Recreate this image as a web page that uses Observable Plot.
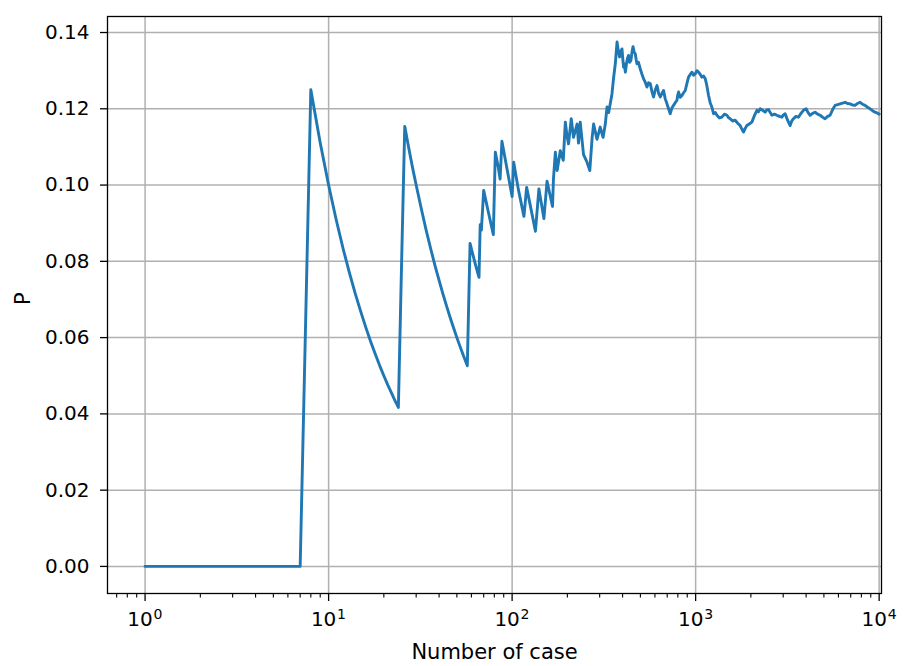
<!DOCTYPE html>
<html>
<head>
<meta charset="utf-8">
<script src="https://cdn.jsdelivr.net/npm/d3@7"></script>
<script src="https://cdn.jsdelivr.net/npm/@observablehq/plot@0.6"></script>
<style>
  body { margin: 0; background: #fff; }
  #chart svg { display: block; }
</style>
</head>
<body>
<div id="chart"></div>
<script>
// running proportion P against the case number
const caseNo = [
  1, 7, 8, 9, 10, 11, 12, 13, 14, 15, 16, 17, 18, 19, 20, 21, 22, 23, 24,
  25, 26, 27, 28, 29, 30, 32, 34, 36, 38, 40, 42, 44, 46, 48, 50, 52, 54, 56, 57,
  58, 59, 60, 62, 64, 66, 67, 68, 70, 74, 79, 81, 84, 86, 88, 94, 100, 102,
  108, 116, 120, 127, 134, 140, 149, 155, 166, 168, 172, 176, 183, 190, 195,
  199, 203, 210, 216, 226, 230, 235, 245, 256, 265, 273, 278, 290, 302, 313,
  322, 329, 336, 350, 357, 365, 373, 379, 385, 391, 397, 401, 405, 409, 414,
  420, 425, 431, 437, 444, 450, 456, 462, 469, 474, 479, 488, 499, 509, 520,
  531, 543, 554, 566, 578, 590, 603, 616, 629, 642, 655, 669, 683, 698, 712,
  727, 742, 758, 774, 791, 799, 807, 824, 842, 860, 878, 896, 915, 935, 955,
  975, 995, 1016, 1037, 1060, 1082, 1105, 1128, 1150, 1176, 1200, 1227, 1252,
  1280, 1306, 1348, 1390, 1435, 1481, 1512, 1543, 1590, 1643, 1695, 1749, 1785,
  1823, 1860, 1902, 1960, 2025, 2090, 2157, 2200, 2247, 2320, 2393, 2440, 2494,
  2550, 2603, 2690, 2771, 2860, 2951, 3010, 3075, 3170, 3273, 3340, 3412, 3520,
  3633, 3750, 3868, 4000, 4100, 4206, 4340, 4477, 4620, 4768, 4920, 5076, 5240,
  5404, 5580, 5754, 5940, 6125, 6320, 6521, 6730, 6943, 7160, 7392, 7630, 7870,
  8120, 8379, 8650, 8921, 9210, 9500, 9750, 10000
];
const pValue = [
  0, 0, 0.125, 0.1111, 0.1, 0.0909, 0.0833, 0.0769, 0.0714, 0.0667, 0.0625, 0.0588, 0.0556, 0.0526, 0.05, 0.0476, 0.0455, 0.0435, 0.0417,
  0.08, 0.1154, 0.1111, 0.1071, 0.1034, 0.1, 0.0938, 0.0882, 0.0833, 0.0789, 0.075, 0.0714, 0.0682, 0.0652, 0.0625, 0.06, 0.0577, 0.0556, 0.0536, 0.0526,
  0.069, 0.0847, 0.0833, 0.0806, 0.0781, 0.0758, 0.0896, 0.0882, 0.0986, 0.0932, 0.0870, 0.1086, 0.1048, 0.1016, 0.1115, 0.1040, 0.0970, 0.1060,
  0.0990, 0.0918, 0.0994, 0.0935, 0.0879, 0.0990, 0.0912, 0.1010, 0.0944, 0.1016, 0.1086, 0.1038, 0.1090, 0.1065, 0.1165,
  0.1130, 0.1108, 0.1174, 0.1125, 0.1160, 0.1110, 0.1165, 0.1080, 0.1060, 0.1038, 0.1125, 0.1160, 0.1120, 0.1152, 0.1125,
  0.1160, 0.1205, 0.1190, 0.1239, 0.1280, 0.1318, 0.1375, 0.1352, 0.1336, 0.1350, 0.1357, 0.1330, 0.1309, 0.1318, 0.1296,
  0.1318, 0.1332, 0.1340, 0.1322, 0.1327, 0.1348, 0.1363, 0.1350, 0.1344, 0.1330, 0.1318, 0.1322, 0.1305, 0.1292, 0.1279,
  0.1270, 0.1257, 0.1268, 0.1266, 0.1245, 0.1231, 0.1250, 0.1261, 0.1240, 0.1231, 0.1240, 0.1248, 0.1226, 0.1213, 0.1200,
  0.1187, 0.1202, 0.1209, 0.1216, 0.1222, 0.1236, 0.1244, 0.1230, 0.1235, 0.1242, 0.1248, 0.1266, 0.1283, 0.1290, 0.1296,
  0.1288, 0.1292, 0.1300, 0.1296, 0.1290, 0.1283, 0.1286, 0.1279, 0.1262, 0.1235, 0.1216, 0.1204, 0.1187,
  0.1190, 0.1183, 0.1176, 0.1178, 0.1186, 0.1183, 0.1177, 0.1174, 0.1168, 0.1170, 0.1162, 0.1156, 0.1147,
  0.1139, 0.1148, 0.1156, 0.1160, 0.1165, 0.1182, 0.1196, 0.1192, 0.1200, 0.1196, 0.1191, 0.1197, 0.1198,
  0.1190, 0.1183, 0.1186, 0.1183, 0.1180, 0.1178, 0.1184, 0.1187, 0.1170, 0.1156, 0.1168, 0.1174, 0.1180,
  0.1178, 0.1188, 0.1196, 0.1200, 0.1190, 0.1183, 0.1188, 0.1191, 0.1186, 0.1183, 0.1178, 0.1174, 0.1180,
  0.1183, 0.1198, 0.1209, 0.1211, 0.1213, 0.1215, 0.1217, 0.1214, 0.1213, 0.1210, 0.1209, 0.1214, 0.1217,
  0.1212, 0.1209, 0.1204, 0.1200, 0.1195, 0.1191, 0.1189, 0.1186
];

const xMajor = [1, 10, 100, 1000, 10000];
const xMajorExp = ["0", "1", "2", "3", "4"];
const xMinor = [0.7, 0.8, 0.9, 2, 3, 4, 5, 6, 7, 8, 9, 20, 30, 40, 50, 60, 70, 80, 90,
  200, 300, 400, 500, 600, 700, 800, 900, 2000, 3000, 4000, 5000, 6000, 7000, 8000, 9000];
const yTicks = [0, 0.02, 0.04, 0.06, 0.08, 0.10, 0.12, 0.14];

const data = caseNo.map((n, i) => ({n, p: pValue[i]}));

const chart = Plot.plot({
  width: 908,
  height: 666,
  marginLeft: 107,
  marginRight: 27,
  marginTop: 16,
  marginBottom: 73,
  style: {fontFamily: "DejaVu Sans", fontSize: "20px", color: "#000", background: "#fff"},
  x: {type: "log", domain: [0.624, 10300]},
  y: {domain: [-0.0071, 0.1442]},
  marks: [
    Plot.gridX({ticks: xMajor, stroke: "#b0b0b0", strokeOpacity: 1, strokeWidth: 1.5}),
    Plot.gridY({ticks: yTicks, stroke: "#b0b0b0", strokeOpacity: 1, strokeWidth: 1.5}),
    Plot.line(data, {x: "n", y: "p", stroke: "#1f77b4", strokeWidth: 2.9, strokeLinejoin: "round"}),
    Plot.frame({stroke: "#000", strokeWidth: 1.3}),
    Plot.axisY({ticks: yTicks, tickFormat: d3.format(".2f"), tickSize: 7, tickPadding: 11, strokeWidth: 1.3, label: null}),
    Plot.axisX({ticks: xMajor, tickFormat: () => "", tickSize: 8, strokeWidth: 1.3, label: null}),
    Plot.axisX({ticks: xMinor, tickFormat: () => "", tickSize: 4.5, strokeWidth: 1.1, label: null}),
    // "10" base and its exponent, like matplotlib's mathtext labels
    Plot.text(xMajor, {x: d => d, text: () => "10", frameAnchor: "bottom", dy: 32, dx: -5, fontSize: 20}),
    Plot.text(xMajor, {x: d => d, text: (d, i) => xMajorExp[i], frameAnchor: "bottom", dy: 25, dx: 8.5, textAnchor: "start", fontSize: 14}),
    Plot.text(["P"], {frameAnchor: "left", dx: -84, rotate: -90, fontSize: 21}),
    Plot.text(["Number of case"], {frameAnchor: "bottom", dy: 65, fontSize: 21})
  ]
});

d3.select("#chart").append(() => chart);
</script>
</body>
</html>
